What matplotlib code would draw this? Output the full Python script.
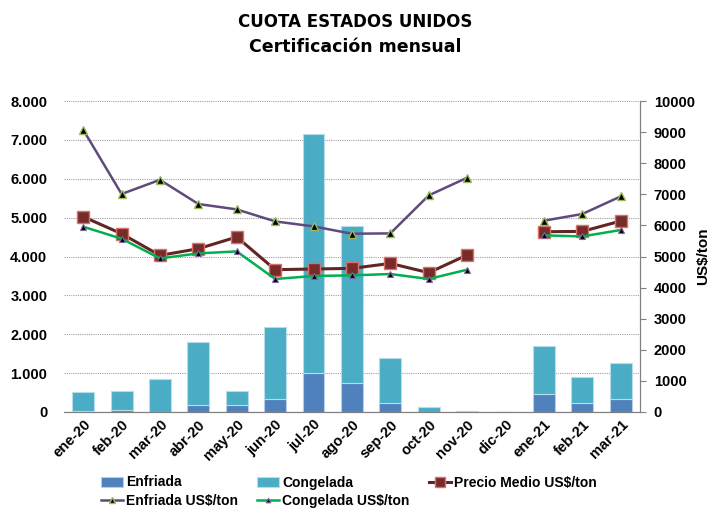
import matplotlib.pyplot as plt
import numpy as np

plt.rcParams['font.family'] = ['Liberation Sans', 'DejaVu Sans']
plt.rcParams['font.weight'] = 'bold'

meses = ['ene-20', 'feb-20', 'mar-20', 'abr-20', 'may-20', 'jun-20', 'jul-20', 'ago-20',
         'sep-20', 'oct-20', 'nov-20', 'dic-20', 'ene-21', 'feb-21', 'mar-21']

# toneladas (eje izquierdo)
enfriada = [30, 40, 10, 188, 171, 342, 1003, 736, 231, 10, 5, 0, 463, 231, 324]
total = [514, 540, 849, 1790, 530, 2186, 7150, 4774, 1397, 120, 25, 0, 1688, 890, 1250]
congelada = [t - e for t, e in zip(total, enfriada)]

# US$/ton (eje derecho)
nan = np.nan
precio_medio = [6280, 5733, 5035, 5251, 5627, 4576, 4598, 4618, 4778, 4479, 5048, nan, 5797, 5807, 6141]
enfriada_usd = [9077, 7010, 7466, 6688, 6515, 6129, 5968, 5733, 5743, 6965, 7534, nan, 6151, 6367, 6933]
congelada_usd = [5958, 5572, 4939, 5100, 5164, 4277, 4373, 4393, 4437, 4277, 4576, nan, 5679, 5646, 5852]

x = np.arange(len(meses))

fig = plt.figure(figsize=(7.11, 5.16), dpi=100)
ax = fig.add_axes([0.090, 0.2016, 0.810, 0.6026])
ax2 = ax.twinx()

b1 = ax.bar(x, enfriada, width=0.57, color='#4F81BD', edgecolor='#B9CDE5', linewidth=0.8, label='Enfriada')
b2 = ax.bar(x, congelada, width=0.57, bottom=enfriada, color='#4BACC6', edgecolor='#B7DEE8',
            linewidth=0.8, label='Congelada')

l1, = ax2.plot(x, precio_medio, color='#632523', lw=2.2, marker='s', ms=9,
               mfc='#772C2A', mec='#D9706C', mew=1, label='Precio Medio US$/ton')
l2, = ax2.plot(x, enfriada_usd, color='#604A7B', lw=1.8, marker='^', ms=6,
               mfc='black', mec='#9BBB59', mew=1, label='Enfriada US$/ton')
l3, = ax2.plot(x, congelada_usd, color='#00B050', lw=1.8, marker='^', ms=4.5,
               mfc='black', mec='#8064A2', mew=0.8, label='Congelada US$/ton')

ax.set_ylim(0, 8000)
ax.set_yticks(np.arange(0, 8001, 1000))
ax.set_yticklabels(['0'] + ['{:d}.000'.format(v) for v in range(1, 9)])
ax.set_xlim(-0.5, len(meses) - 0.5)
ax.set_xticks(x)
ax.set_xticklabels(meses, rotation=45, ha='right', rotation_mode='anchor')
ax.grid(axis='y', color='#A0A0A0', linestyle=(0, (1, 1)), linewidth=0.8)
ax.set_axisbelow(True)

ax2.set_ylim(0, 10000)
ax2.set_yticks(np.arange(0, 10001, 1000))
ax2.set_ylabel('US$/ton', fontsize=11, fontweight='bold', labelpad=1)

for a in (ax, ax2):
    a.spines['top'].set_visible(False)
    a.spines['left'].set_visible(False)
    a.spines['right'].set_color('#808080')
    a.spines['bottom'].set_color('#808080')
    a.tick_params(labelsize=10.5, length=0)
ax2.tick_params(axis='y', length=4, color='#808080', pad=6)
ax.tick_params(axis='x', pad=4)
ax.tick_params(axis='y', pad=12)

fig.text(0.5, 0.957, 'CUOTA ESTADOS UNIDOS', ha='center', va='center', fontsize=12,
         fontweight='bold', family='DejaVu Sans')
fig.text(0.5, 0.909, 'Certificación mensual', ha='center', va='center', fontsize=12.5,
         fontweight='bold', family='DejaVu Sans')

fig.legend([b1, l2, b2, l3, l1],
           ['Enfriada', 'Enfriada US$/ton', 'Congelada', 'Congelada US$/ton', 'Precio Medio US$/ton'],
           loc='lower left', bbox_to_anchor=(0.13, 0.0), ncol=3, frameon=False, fontsize=10,
           handlelength=1.6, handletextpad=0.2, columnspacing=1.4, labelspacing=0.3,
           borderaxespad=0.2, markerscale=0.75)

fig.savefig('out.png', dpi=100)
